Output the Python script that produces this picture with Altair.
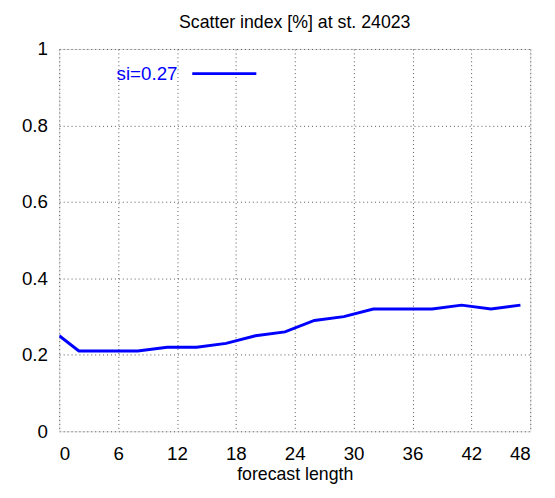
import altair as alt
import pandas as pd

hours = [0, 2, 5, 8, 11, 14, 17, 20, 23, 26, 29, 32, 35, 38, 41, 44, 47]
si = [0.25, 0.21, 0.21, 0.21, 0.22, 0.22, 0.23, 0.25, 0.26, 0.29, 0.30, 0.32, 0.32, 0.32, 0.33, 0.32, 0.33]
df = pd.DataFrame({"h": hours, "si": si})
one = pd.DataFrame({"k": [0]})

F = "Liberation Sans"
x = alt.X("h:Q", scale=alt.Scale(domain=[0, 48], nice=False),
          axis=alt.Axis(values=list(range(0, 49, 6)), title="forecast length", grid=True,
                        gridDash=[1, 3], gridColor="#555", ticks=False,
                        domain=False, labelFontSize=19, titleFontSize=18,
                        labelFont=F, titleFont=F, labelColor="black", titleColor="black",
                        titleFontWeight="normal", labelPadding=14, titlePadding=2))
y = alt.Y("si:Q", scale=alt.Scale(domain=[0, 1], nice=False),
          axis=alt.Axis(values=[0, 0.2, 0.4, 0.6, 0.8, 1], format="~g", title=None, grid=True,
                        gridDash=[1, 3], gridColor="#555", ticks=False,
                        domain=False, labelFontSize=19, labelFont=F, labelColor="black",
                        labelPadding=12))

line = alt.Chart(df).mark_line(color="#0000ff", strokeWidth=3, clip=True).encode(x=x, y=y)
leg_line = alt.Chart(one).mark_rule(color="#0000ff", strokeWidth=3).encode(
    x=alt.value(135), x2=alt.value(200), y=alt.value(25))
leg_text = alt.Chart(one).mark_text(text="si=0.27", color="#0000ff", fontSize=19, font=F,
                                   align="right", baseline="middle").encode(
    x=alt.value(120), y=alt.value(25))

chart = alt.layer(line, leg_line, leg_text).properties(
    width=478, height=388,
    title=alt.TitleParams("Scatter index [%] at st. 24023", font=F, fontSize=18,
                          fontWeight="normal", offset=8),
    autosize=alt.AutoSizeParams(type="none"),
    padding={"left": 52, "top": 38, "right": 17, "bottom": 57},
).configure_view(stroke="black", strokeWidth=1.5).configure(background="white")

chart.save("out.html", embed_options={"renderer": "svg", "actions": False})
